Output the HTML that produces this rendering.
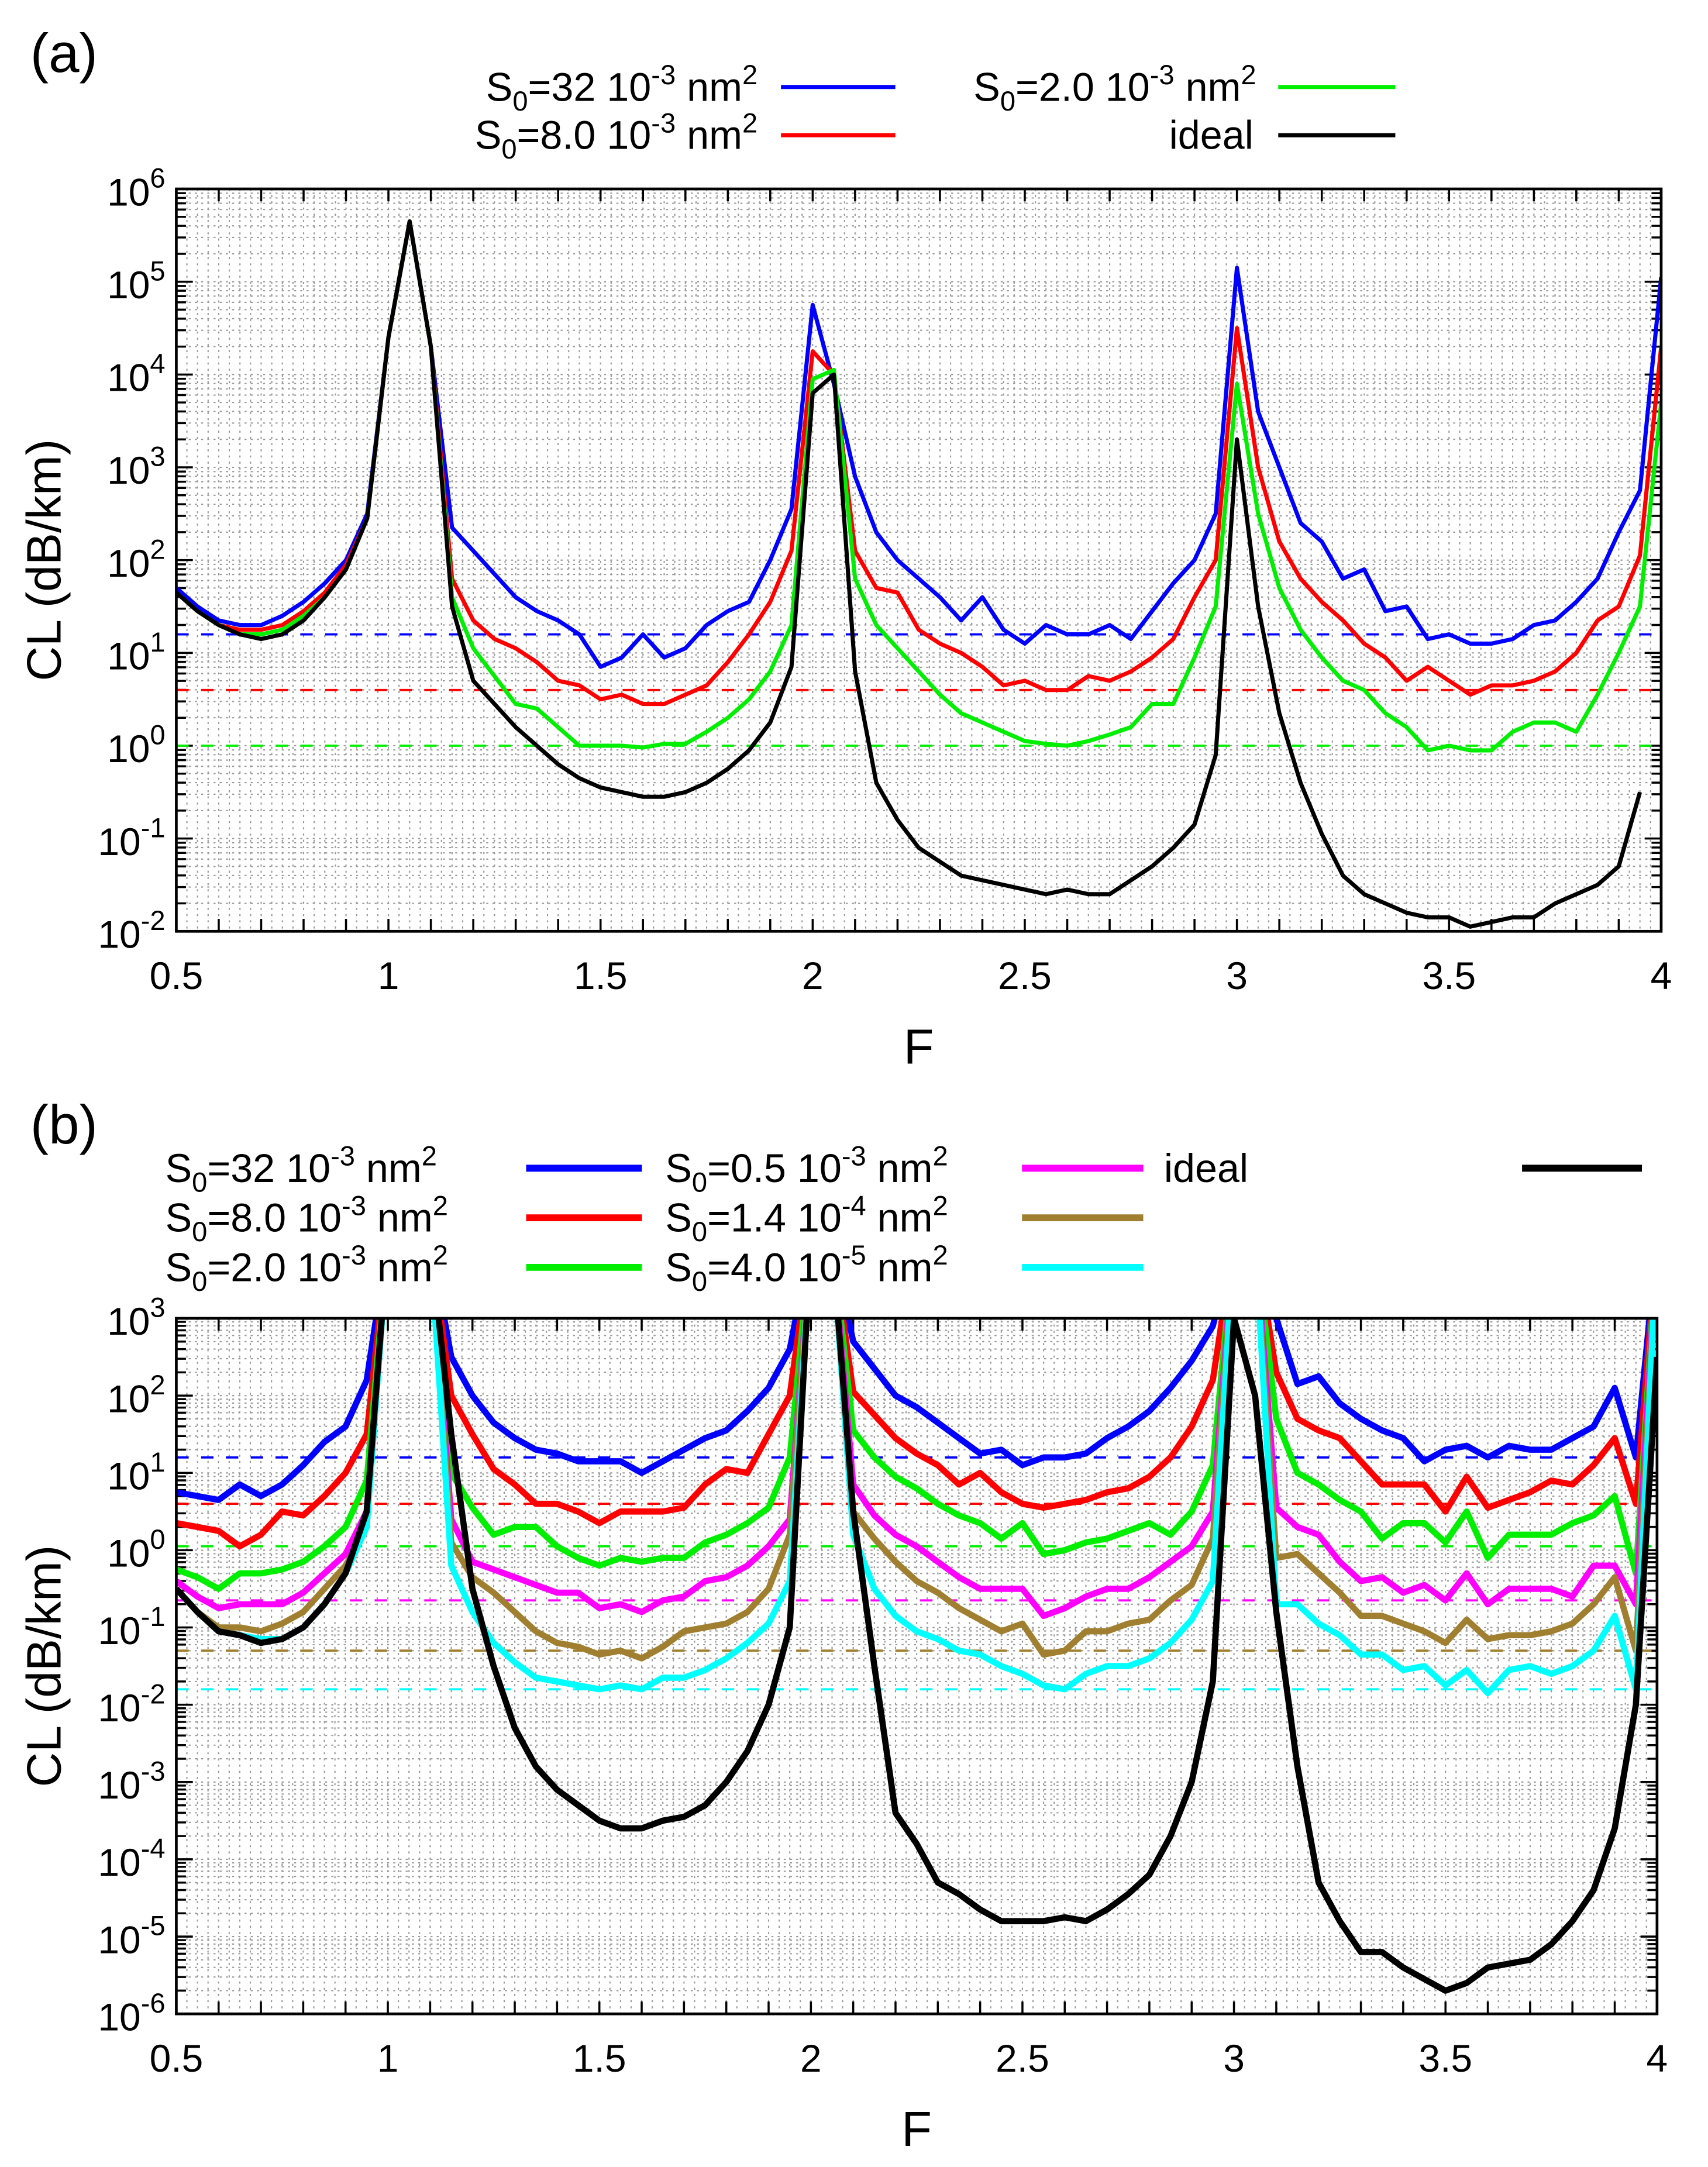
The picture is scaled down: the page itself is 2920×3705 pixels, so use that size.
<!DOCTYPE html>
<html><head><meta charset="utf-8"><style>
html,body{margin:0;padding:0;background:#fff;}
svg{display:block;font-family:"Liberation Sans",sans-serif;}
</style></head><body>
<svg id="root" width="2920" height="3705" viewBox="0 0 1240 1573" xmlns="http://www.w3.org/2000/svg">
<defs>
<clipPath id="clipA"><rect x="128" y="137" width="1078" height="539"/></clipPath>
<clipPath id="clipB"><rect x="128" y="957" width="1075" height="505"/></clipPath>
</defs>
<g id="panelA"></g>
<g id="panelB"></g>
</svg>
<script>
// x grid F values 0.5..4.0 step 0.05
const fValues = [];
for (let i = 0; i <= 70; i++) fValues.push(+(0.5 + i * 0.05).toFixed(2));
const xTickLabels = ["0.5","1","1.5","2","2.5","3","3.5","4"];
const xTicks = [0.5,1,1.5,2,2.5,3,3.5,4];

// Panel (a) log10(CL)
const aBlue = [1.7,1.5,1.35,1.3,1.3,1.4,1.55,1.75,2.0,2.5,4.4,5.65,4.3,2.35,2.1,1.85,1.6,1.45,1.35,1.2,0.85,0.95,1.2,0.95,1.05,1.3,1.45,1.55,2.0,2.55,4.75,3.9,2.9,2.3,2.0,1.8,1.6,1.35,1.6,1.25,1.1,1.3,1.2,1.2,1.3,1.15,1.45,1.75,2.0,2.5,5.15,3.6,3.0,2.4,2.2,1.8,1.9,1.45,1.5,1.15,1.2,1.1,1.1,1.15,1.3,1.35,1.55,1.8,2.3,2.75,5.05];
const aRed = [1.65,1.45,1.3,1.25,1.25,1.3,1.45,1.65,1.95,2.45,4.4,5.65,4.3,1.8,1.35,1.15,1.05,0.9,0.7,0.65,0.5,0.55,0.45,0.45,0.55,0.65,0.9,1.2,1.55,2.1,4.25,4.0,2.1,1.7,1.65,1.25,1.1,1.0,0.85,0.65,0.7,0.6,0.6,0.75,0.7,0.8,0.95,1.15,1.6,2.0,4.5,3.0,2.2,1.8,1.55,1.35,1.1,0.95,0.7,0.85,0.7,0.55,0.65,0.65,0.7,0.8,1.0,1.35,1.5,2.05,4.3];
const aGreen = [1.65,1.45,1.3,1.2,1.2,1.25,1.4,1.6,1.9,2.45,4.4,5.65,4.3,1.6,1.05,0.75,0.45,0.4,0.2,0.0,0.0,0.0,-0.02,0.02,0.02,0.15,0.3,0.5,0.8,1.3,3.95,4.05,1.8,1.3,1.05,0.8,0.55,0.35,0.25,0.15,0.05,0.02,0.0,0.05,0.12,0.2,0.45,0.45,0.95,1.5,3.9,2.5,1.7,1.25,0.95,0.7,0.6,0.35,0.2,-0.05,0.0,-0.05,-0.05,0.15,0.25,0.25,0.15,0.55,1.0,1.5,3.7];
const aIdeal = [1.65,1.45,1.3,1.2,1.15,1.2,1.35,1.6,1.9,2.45,4.4,5.65,4.3,1.5,0.7,0.45,0.2,0.0,-0.2,-0.35,-0.45,-0.5,-0.55,-0.55,-0.5,-0.4,-0.25,-0.05,0.25,0.85,3.8,4.0,0.8,-0.4,-0.8,-1.1,-1.25,-1.4,-1.45,-1.5,-1.55,-1.6,-1.55,-1.6,-1.6,-1.45,-1.3,-1.1,-0.85,-0.1,3.3,1.5,0.35,-0.4,-0.95,-1.4,-1.6,-1.7,-1.8,-1.85,-1.85,-1.95,-1.9,-1.85,-1.85,-1.7,-1.6,-1.5,-1.3,-0.5];
const aRefLevels = [1.2,0.6,0.0];

// Panel (b) log10(CL)
const bBlue = [0.75,0.7,0.65,0.85,0.7,0.85,1.1,1.4,1.6,2.2,4,4,4,2.5,2.0,1.65,1.45,1.3,1.25,1.15,1.15,1.15,1.0,1.15,1.3,1.45,1.55,1.8,2.1,2.6,4,4,2.7,2.35,2.0,1.85,1.65,1.45,1.25,1.3,1.1,1.2,1.2,1.25,1.45,1.6,1.8,2.1,2.45,2.9,4,4,3.0,2.15,2.25,1.9,1.7,1.55,1.45,1.15,1.3,1.35,1.2,1.35,1.3,1.3,1.45,1.6,2.1,1.2,4];
const bRed = [0.35,0.3,0.25,0.05,0.2,0.5,0.45,0.7,1.0,1.5,4,4,4,2.0,1.5,1.05,0.85,0.6,0.6,0.5,0.35,0.5,0.5,0.5,0.55,0.85,1.05,1.0,1.5,2.0,4,4,2.05,1.75,1.45,1.25,1.1,0.85,1.0,0.75,0.6,0.55,0.6,0.65,0.75,0.8,0.95,1.2,1.6,2.2,4,4,2.3,1.7,1.55,1.45,1.15,0.85,0.85,0.85,0.5,0.95,0.55,0.65,0.75,0.9,0.85,1.1,1.45,0.6,4];
const bGreen = [-0.25,-0.35,-0.5,-0.3,-0.3,-0.25,-0.15,0.05,0.3,0.9,4,4,4,1.0,0.55,0.2,0.3,0.3,0.05,-0.1,-0.2,-0.1,-0.15,-0.1,-0.1,0.1,0.2,0.35,0.55,1.2,4,4,1.55,1.2,0.95,0.8,0.6,0.45,0.35,0.15,0.35,-0.05,0.0,0.1,0.15,0.25,0.35,0.2,0.5,1.1,4,4,1.7,1.0,0.85,0.65,0.5,0.15,0.35,0.35,0.1,0.5,-0.1,0.2,0.2,0.2,0.35,0.45,0.7,-0.3,4];
const bMagenta = [-0.4,-0.6,-0.75,-0.7,-0.7,-0.7,-0.55,-0.3,-0.05,0.5,4,4,4,0.4,-0.15,-0.25,-0.35,-0.45,-0.55,-0.55,-0.75,-0.7,-0.8,-0.65,-0.6,-0.4,-0.35,-0.2,0.05,0.4,4,4,0.85,0.45,0.2,0.05,-0.15,-0.35,-0.5,-0.5,-0.5,-0.85,-0.75,-0.6,-0.5,-0.5,-0.35,-0.15,0.05,0.5,4,4,0.55,0.3,0.2,-0.15,-0.4,-0.35,-0.55,-0.45,-0.65,-0.3,-0.7,-0.5,-0.5,-0.5,-0.6,-0.2,-0.2,-0.7,4];
const bBrown = [-0.5,-0.8,-1.0,-1.0,-1.05,-0.95,-0.8,-0.5,-0.2,0.3,4,4,4,0.1,-0.35,-0.55,-0.8,-1.05,-1.2,-1.25,-1.35,-1.3,-1.4,-1.25,-1.05,-1.0,-0.95,-0.8,-0.5,0.2,4,4,0.5,0.15,-0.15,-0.4,-0.55,-0.75,-0.9,-1.05,-0.95,-1.35,-1.3,-1.05,-1.05,-0.95,-0.9,-0.65,-0.45,0.15,4,4,-0.1,-0.05,-0.3,-0.55,-0.85,-0.85,-0.95,-1.05,-1.2,-0.9,-1.15,-1.1,-1.1,-1.05,-0.95,-0.7,-0.35,-1.3,4];
const bCyan = [-0.5,-0.8,-1.05,-1.1,-1.15,-1.15,-1.0,-0.7,-0.3,0.3,4,4,4,-0.2,-0.8,-1.2,-1.45,-1.65,-1.7,-1.75,-1.8,-1.75,-1.8,-1.65,-1.65,-1.55,-1.4,-1.2,-0.95,-0.4,4,4,0.2,-0.5,-0.85,-1.05,-1.15,-1.3,-1.35,-1.5,-1.6,-1.75,-1.8,-1.6,-1.5,-1.5,-1.4,-1.2,-0.9,-0.4,4,4,-0.7,-0.7,-0.95,-1.1,-1.35,-1.35,-1.55,-1.5,-1.75,-1.55,-1.85,-1.55,-1.5,-1.6,-1.5,-1.3,-0.85,-1.8,4];
const bIdeal = [-0.5,-0.8,-1.05,-1.1,-1.2,-1.15,-1.0,-0.7,-0.3,0.5,4,4,4,1.5,-0.5,-1.5,-2.3,-2.8,-3.1,-3.3,-3.5,-3.6,-3.6,-3.5,-3.45,-3.3,-3.0,-2.6,-2.0,-1.0,4,4,0.5,-1.5,-3.4,-3.8,-4.3,-4.45,-4.65,-4.8,-4.8,-4.8,-4.75,-4.8,-4.65,-4.45,-4.2,-3.7,-3.0,-1.7,3.0,2.0,-0.8,-2.8,-4.3,-4.8,-5.2,-5.2,-5.4,-5.55,-5.7,-5.6,-5.4,-5.35,-5.3,-5.1,-4.8,-4.4,-3.6,-2.0,2.5];
const bRefLevels = [1.2,0.6,0.05,-0.65,-1.3,-1.8];

const NS = "http://www.w3.org/2000/svg";
function mk(parent, tag, attrs, text) {
  const e = document.createElementNS(NS, tag);
  for (const k in attrs) e.setAttribute(k, attrs[k]);
  if (text !== undefined) e.textContent = text;
  parent.appendChild(e);
  return e;
}

function buildPanel(g, cfg) {
  const {L,R,T,B,ymin,ymax,clip,lw,series,refs,refColors} = cfg;
  const xs = f => L + (f - 0.5) / 3.5 * (R - L);
  const ys = v => B - (v - ymin) / (ymax - ymin) * (B - T);
  const grid = mk(g, "g", {});
  
  
  for (let f = 0.5; f <= 4.0001; f += 0.025) {
    mk(grid, "line", {x1:xs(f),x2:xs(f),y1:T,y2:B,stroke:"#999","stroke-width":0.9,"stroke-dasharray":"1.5,3"});
  }
  for (let d = ymin; d < ymax; d++) {
    for (let m = 1; m <= 9; m++) {
      const y = ys(d + Math.log10(m));
      mk(grid, "line", {x1:L,x2:R,y1:y,y2:y,stroke:"#999","stroke-width":0.9,"stroke-dasharray":"1.5,3"});
      const tl = m === 1 ? 12 : 7;
      mk(grid, "line", {x1:L,x2:L+tl,y1:y,y2:y,stroke:"#000","stroke-width":1.5});
      mk(grid, "line", {x1:R,x2:R-tl,y1:y,y2:y,stroke:"#000","stroke-width":1.5});
    }
  }
  for (let f = 0.5; f <= 4.0001; f += 0.1) {
    const x = xs(f);
    mk(grid, "line", {x1:x,x2:x,y1:B,y2:B-9,stroke:"#000","stroke-width":1.5});
    mk(grid, "line", {x1:x,x2:x,y1:T,y2:T+9,stroke:"#000","stroke-width":1.5});
  }
  refs.forEach((v, i) => {
    const l = mk(g, "line", {x1:L,x2:R,y1:ys(v),y2:ys(v),stroke:refColors[i],"stroke-width":1.6,"stroke-dasharray":"9,9"});
    
    
  });
  const sg = mk(g, "g", {"clip-path":"url(#" + clip + ")"});
  series.forEach(s => {
    const pts = s.data.map((v, i) => xs(fValues[i]).toFixed(2) + "," + ys(v).toFixed(2)).join(" ");
    const p = mk(sg, "polyline", {points:pts,fill:"none",stroke:s.color,"stroke-width":lw,"stroke-linejoin":"round"});
    
    
  });
  const fr = mk(g, "rect", {x:L,y:T,width:R-L,height:B-T,fill:"none",stroke:"#000","stroke-width":2});
  
  
  xTicks.forEach((f, i) => {
    const t = mk(g, "text", {x:xs(f),y:B+42,"font-size":28,"text-anchor":"middle"}, xTickLabels[i]);
    
    
  });
  for (let d = ymin; d <= ymax; d++) {
    const t = mk(g, "text", {x:L-8,y:ys(d)+12,"font-size":28,"text-anchor":"end"});
    
    
    t.appendChild(document.createTextNode("10"));
    mk(t, "tspan", {dy:-13,"font-size":20}, String(d));
  }
  const xt = mk(g, "text", {x:(L+R)/2,y:B+96,"font-size":36,"text-anchor":"middle"}, "F");
  
  
  const yt = mk(g, "text", {x:0,y:0,"font-size":35,"text-anchor":"middle",transform:"translate(44," + ((T+B)/2) + ") rotate(-90)"}, "CL (dB/km)");
  
  
}

function legendEntry(g, label, sup, tx, ty, anchor, color, lx1, lx2, lw, name) {
  const eg = mk(g, "g", {});
  
  
  const t = mk(eg, "text", {x:tx,y:ty,"font-size":29,"text-anchor":anchor});
  if (sup) {
    t.appendChild(document.createTextNode("S"));
    mk(t, "tspan", {dy:7,"font-size":20}, "0");
    mk(t, "tspan", {dy:-7}, "=" + sup[0] + " 10");
    mk(t, "tspan", {dy:-12,"font-size":20}, sup[1]);
    mk(t, "tspan", {dy:12}, " nm");
    mk(t, "tspan", {dy:-12,"font-size":20}, "2");
  } else {
    t.textContent = label;
  }
  mk(eg, "line", {x1:lx1,x2:lx2,y1:ty-10,y2:ty-10,stroke:color,"stroke-width":lw});
}

const A = document.getElementById("panelA");
const B = document.getElementById("panelB");
const la = mk(A, "text", {x:22,y:52,"font-size":40}, "(a)");
 
const lb = mk(B, "text", {x:22,y:830,"font-size":40}, "(b)");
 

buildPanel(A, {id:"a",L:128,R:1206,T:137,B:676,ymin:-2,ymax:6,clip:"clipA",lw:3,
  series:[{name:"s32",color:"#0000ff",data:aBlue},{name:"s8",color:"#ff0000",data:aRed},{name:"s2",color:"#00ee00",data:aGreen},{name:"ideal",color:"#000",data:aIdeal}],
  refs:aRefLevels, refColors:["#0000ff","#ff0000","#00ee00"]});
buildPanel(B, {id:"b",L:128,R:1203,T:957,B:1462,ymin:-6,ymax:3,clip:"clipB",lw:4.5,
  series:[{name:"s32",color:"#0000ff",data:bBlue},{name:"s8",color:"#ff0000",data:bRed},{name:"s2",color:"#00ee00",data:bGreen},{name:"s05",color:"#ff00ff",data:bMagenta},{name:"s14e4",color:"#a08030",data:bBrown},{name:"s4e5",color:"#00ffff",data:bCyan},{name:"ideal",color:"#000",data:bIdeal}],
  refs:bRefLevels, refColors:["#0000ff","#ff0000","#00ee00","#ff00ff","#a08030","#00ffff"]});

legendEntry(A,null,["32","-3"],550,73,"end","#0000ff",567,650,3,"legend-a-s32");
legendEntry(A,null,["8.0","-3"],550,108,"end","#ff0000",567,650,3,"legend-a-s8");
legendEntry(A,null,["2.0","-3"],912,73,"end","#00ee00",928,1013,3,"legend-a-s2");
legendEntry(A,"ideal",null,910,108,"end","#000",928,1013,3,"legend-a-ideal");
legendEntry(B,null,["32","-3"],120,858,"start","#0000ff",382,466,5,"legend-b-s32");
legendEntry(B,null,["8.0","-3"],120,894,"start","#ff0000",382,466,5,"legend-b-s8");
legendEntry(B,null,["2.0","-3"],120,930,"start","#00ee00",382,466,5,"legend-b-s2");
legendEntry(B,null,["0.5","-3"],483,858,"start","#ff00ff",742,830,5,"legend-b-s05");
legendEntry(B,null,["1.4","-4"],483,894,"start","#a08030",742,830,5,"legend-b-s14e4");
legendEntry(B,null,["4.0","-5"],483,930,"start","#00ffff",742,830,5,"legend-b-s4e5");
legendEntry(B,"ideal",null,845,858,"start","#000",1105,1192,5,"legend-b-ideal");
</script>
</body></html>
